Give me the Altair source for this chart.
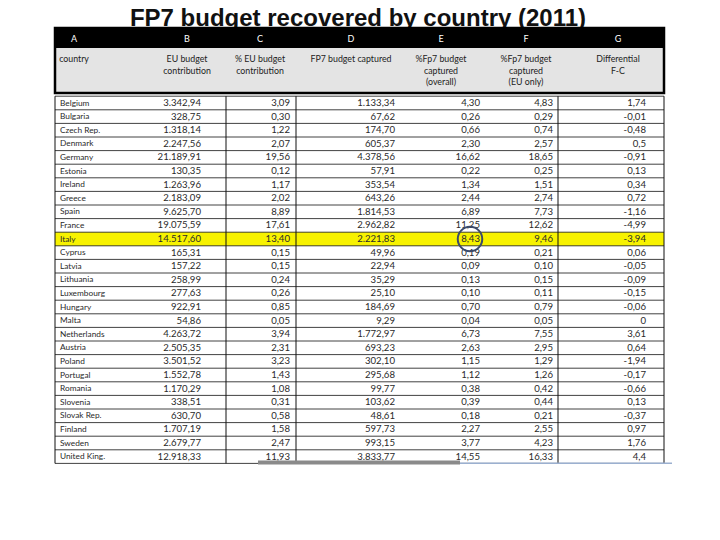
import altair as alt
import pandas as pd

title_text = "FP7 budget recovered by country (2011)"
col_letters = ["A", "B", "C", "D", "E", "F", "G"]
col_titles = [
    ["country"],
    ["EU budget", "contribution"],
    ["% EU budget", "contribution"],
    ["FP7 budget captured"],
    ["%Fp7 budget", "captured", "(overall)"],
    ["%Fp7 budget", "captured", "(EU only)"],
    ["Differential", "F-C"],
]

countries = ["Belgium", "Bulgaria", "Czech Rep.", "Denmark", "Germany", "Estonia", "Ireland",
             "Greece", "Spain", "France", "Italy", "Cyprus", "Latvia", "Lithuania", "Luxembourg",
             "Hungary", "Malta", "Netherlands", "Austria", "Poland", "Portugal", "Romania",
             "Slovenia", "Slovak Rep.", "Finland", "Sweden", "United King."]
eu_contrib = [3342.94, 328.75, 1318.14, 2247.56, 21189.91, 130.35, 1263.96, 2183.09, 9625.70,
              19075.59, 14517.60, 165.31, 157.22, 258.99, 277.63, 922.91, 54.86, 4263.72,
              2505.35, 3501.52, 1552.78, 1170.29, 338.51, 630.70, 1707.19, 2679.77, 12918.33]
pct_eu_contrib = [3.09, 0.30, 1.22, 2.07, 19.56, 0.12, 1.17, 2.02, 8.89, 17.61, 13.40, 0.15, 0.15,
                  0.24, 0.26, 0.85, 0.05, 3.94, 2.31, 3.23, 1.43, 1.08, 0.31, 0.58, 1.58, 2.47, 11.93]
fp7_captured = [1133.34, 67.62, 174.70, 605.37, 4378.56, 57.91, 353.54, 643.26, 1814.53, 2962.82,
                2221.83, 49.96, 22.94, 35.29, 25.10, 184.69, 9.29, 1772.97, 693.23, 302.10, 295.68,
                99.77, 103.62, 48.61, 597.73, 993.15, 3833.77]
pct_fp7_overall = [4.30, 0.26, 0.66, 2.30, 16.62, 0.22, 1.34, 2.44, 6.89, 11.25, 8.43, 0.19, 0.09,
                   0.13, 0.10, 0.70, 0.04, 6.73, 2.63, 1.15, 1.12, 0.38, 0.39, 0.18, 2.27, 3.77, 14.55]
pct_fp7_eu = [4.83, 0.29, 0.74, 2.57, 18.65, 0.25, 1.51, 2.74, 7.73, 12.62, 9.46, 0.21, 0.10, 0.15,
              0.11, 0.79, 0.05, 7.55, 2.95, 1.29, 1.26, 0.42, 0.44, 0.21, 2.55, 4.23, 16.33]
differential = ["1,74", "-0,01", "-0,48", "0,5", "-0,91", "0,13", "0,34", "0,72", "-1,16", "-4,99",
                "-3,94", "0,06", "-0,05", "-0,09", "-0,15", "-0,06", "0", "3,61", "0,64", "-1,94",
                "-0,17", "-0,66", "0,13", "-0,37", "0,97", "1,76", "4,4"]
highlight = "Italy"
circled = ("E", "Italy")


def eu_fmt(v):
    s = f"{v:,.2f}"
    return s.replace(",", "X").replace(".", ",").replace("X", ".")


# ---- layout (pixel space of the 720x540 picture) ----
TL, TR = 55, 664          # table left / right
ROW0, ROWH = 103, 13.6    # first row centre, row height
col_center = {"A": 74, "B": 187, "C": 260, "D": 351, "E": 441, "F": 526, "G": 618}
col_right = {"B": 201, "C": 290, "D": 395, "E": 480, "F": 553, "G": 646}
vlines = [226, 296, 558]
FONT = "Lato"

W, H = 704, 524
xs = alt.Scale(domain=[8, 712], range=[0, W], nice=False, zero=False)
ys = alt.Scale(domain=[8, 532], range=[0, H], nice=False, zero=False)
X = lambda f: alt.X(f, type="quantitative", scale=xs, axis=None)
Y = lambda f: alt.Y(f, type="quantitative", scale=ys, axis=None)
X2 = lambda f: alt.X2(f)
Y2 = lambda f: alt.Y2(f)

n = len(countries)
row_y = [ROW0 + i * ROWH for i in range(n)]
table_bottom = row_y[-1] + ROWH / 2

# cell text
cells = []
series = {"B": [eu_fmt(v) for v in eu_contrib], "C": [eu_fmt(v) for v in pct_eu_contrib],
          "D": [eu_fmt(v) for v in fp7_captured], "E": [eu_fmt(v) for v in pct_fp7_overall],
          "F": [eu_fmt(v) for v in pct_fp7_eu], "G": differential}
for i, c in enumerate(countries):
    cells.append({"x": 60, "y": row_y[i] + 0.5, "t": c, "a": "left"})
    for k, vals in series.items():
        cells.append({"x": col_right[k], "y": row_y[i], "t": vals[i], "a": "right"})
cells_df = pd.DataFrame(cells)

text_left = alt.Chart(cells_df[cells_df.a == "left"]).mark_text(
    align="left", baseline="middle", font=FONT, fontSize=8.3, color="#2a2a2a").encode(
    x=X("x"), y=Y("y"), text="t:N")
text_right = alt.Chart(cells_df[cells_df.a == "right"]).mark_text(
    align="right", baseline="middle", font=FONT, fontSize=9.6, color="#2a2a2a").encode(
    x=X("x"), y=Y("y"), text="t:N")

# highlight row
hi = countries.index(highlight)
hl_df = pd.DataFrame([{"x": TL, "x2": TR, "y": row_y[hi] - ROWH / 2, "y2": row_y[hi] + ROWH / 2}])
hl = alt.Chart(hl_df).mark_rect(color="#f7f200").encode(x=X("x"), x2=X2("x2"), y=Y("y"), y2=Y2("y2"))

# grid lines
hlines = pd.DataFrame([{"x": TL, "x2": TR, "y": ROW0 - ROWH / 2 + j * ROWH} for j in range(n + 1)])
hrule = alt.Chart(hlines).mark_rule(color="#111", strokeWidth=0.8).encode(
    x=X("x"), x2=X2("x2"), y=Y("y"))
vl_df = pd.DataFrame([{"x": v, "y": ROW0 - ROWH / 2, "y2": table_bottom} for v in [TL] + vlines + [TR]])
vrule = alt.Chart(vl_df).mark_rule(color="#111", strokeWidth=1).encode(
    x=X("x"), y=Y("y"), y2=Y2("y2"))

# header
hdr_df = pd.DataFrame([
    {"x": TL, "x2": TR, "y": 28, "y2": 48, "c": "black"},
    {"x": TL, "x2": TR, "y": 48, "y2": 92, "c": "#e4e4e4"},
])
hdr = alt.Chart(hdr_df).mark_rect().encode(
    x=X("x"), x2=X2("x2"), y=Y("y"), y2=Y2("y2"), color=alt.Color("c:N", scale=None))
hdr_border = alt.Chart(pd.DataFrame([{"x": TL, "x2": TR, "y": 28, "y2": 93}])).mark_rect(
    filled=False, stroke="black", strokeWidth=2.5).encode(x=X("x"), x2=X2("x2"), y=Y("y"), y2=Y2("y2"))
letters_df = pd.DataFrame([{"x": col_center[k], "y": 39, "t": k} for k in col_letters])
letters = alt.Chart(letters_df).mark_text(font=FONT, fontSize=9, color="white", baseline="middle").encode(
    x=X("x"), y=Y("y"), text="t:N")
titles_df = pd.DataFrame([{"x": col_center[k], "y": 59, "t": col_titles[i]}
                          for i, k in enumerate(col_letters)])
titles = alt.Chart(titles_df).mark_text(font=FONT, fontSize=8.8, color="#222", baseline="middle",
                                        lineHeight=11.5).encode(x=X("x"), y=Y("y"), text="t")

# circle
circ_df = pd.DataFrame([{"x": col_right[circled[0]] - 10, "y": row_y[countries.index(circled[1])]}])
circ = alt.Chart(circ_df).mark_point(shape="circle", size=600, filled=False, stroke="#3b4a6b",
                                     strokeWidth=2, opacity=1).encode(x=X("x"), y=Y("y"))

# bottom shadow bar
bar_df = pd.DataFrame([{"x": 258, "x2": 460, "y": table_bottom - 3, "y2": table_bottom + 1, "c": "#8a8a8a"},
                       {"x": 460, "x2": 672, "y": table_bottom - 1, "y2": table_bottom + 0.5, "c": "#9bb0d0"}])
shadow = alt.Chart(bar_df).mark_rect().encode(
    x=X("x"), x2=X2("x2"), y=Y("y"), y2=Y2("y2"), color=alt.Color("c:N", scale=None))

ttl = alt.Chart(pd.DataFrame([{"x": 358, "y": 25.5, "t": title_text}])).mark_text(
    font="Liberation Sans", fontSize=24, fontWeight="bold", color="#111",
    baseline="alphabetic").encode(x=X("x"), y=Y("y"), text="t:N")

chart = alt.layer(ttl, hdr, hdr_border, letters, titles, hl, hrule, vrule, text_left, text_right,
                  circ, shadow).properties(
    width=W, height=H, padding=0, autosize=alt.AutoSizeParams(type="none")
).configure_view(stroke=None)

chart.save("out.html", embed_options={"renderer": "svg", "actions": False})
